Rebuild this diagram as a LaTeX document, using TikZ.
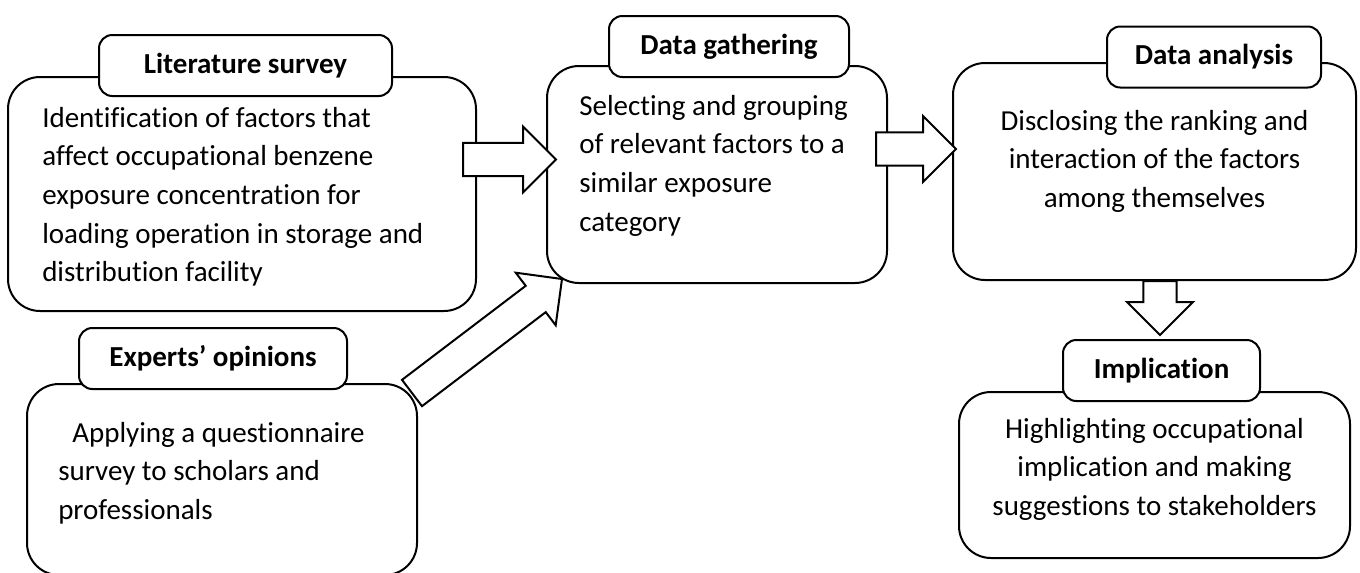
\documentclass[tikz,border=0pt]{standalone}
\usepackage{fontspec}
\setmainfont{Carlito}[Ligatures={NoCommon,NoContextual}]
\usepackage{tikz}
\usetikzlibrary{calc}
\newcommand{\blockarrow}[2]{%
    \coordinate (hb) at ($(#2)!24.75pt!(#1)$);
    \draw[blockarrow] ($(#1)!12.4pt!90:(#2)$) -- ($(hb)!12.4pt!90:(#2)$) -- ($(hb)!24.75pt!90:(#2)$)
        -- (#2) -- ($(hb)!24.75pt!-90:(#2)$) -- ($(hb)!12.4pt!-90:(#2)$) -- ($(#1)!12.4pt!-90:(#2)$) -- cycle;%
}
\tikzset{
    bigbox/.style={draw, line width=1.5pt, rounded corners=24pt, fill=white, inner sep=0pt},
    titlebox/.style={draw, line width=1.5pt, rounded corners=10pt, fill=white, minimum height=45.75pt,
        font=\fontsize{21.75}{26}\selectfont\bfseries},
    bodytext/.style={inner sep=0pt, font=\fontsize{21.75}{28.9}\selectfont},
    blockarrow/.style={draw, line width=1.5pt, fill=white, line join=miter}
}

\begin{document}
\begin{tikzpicture}[x=0.75pt, y=-0.75pt]
    \useasboundingbox (0,0) rectangle (1360,572);
    \clip (0,0) rectangle (1360,572);
    % boxes
    \node[bigbox, minimum width=351pt, minimum height=175.5pt] (survey) at (242,194) {};
    \node[bigbox, minimum width=255pt, minimum height=162.75pt] (gather) at (717,174.5) {};
    \node[bigbox, minimum width=302.25pt, minimum height=162.75pt] (analysis) at (1154.5,171.5) {};
    \node[bigbox, minimum width=293.25pt, minimum height=124.5pt] (implic) at (1154.5,475) {};
    \node[bigbox, minimum width=292.5pt, minimum height=143.25pt] (experts) at (222,479.5) {};
    % titles
    \node[titlebox, minimum width=219.75pt] (surveyhead) at (245.5,65.5) {Literature survey};
    \node[titlebox, minimum width=180pt] (gatherhead) at (729,46.5) {Data gathering};
    \node[titlebox, minimum width=160.5pt] (analysishead) at (1214,57) {Data analysis};
    \node[titlebox, minimum width=147.75pt] (implichead) at (1161.5,370.5) {Implication};
    \node[titlebox, minimum width=201pt] (expertshead) at (213,358.5) {Experts’ opinions};
    % texts
    \node[bodytext, align=left, anchor=north west] (surveytext) at (42,107)
        {Identification of factors that\\affect occupational benzene\\exposure concentration for\\loading operation in storage and\\distribution facility};
    \node[bodytext, align=left, anchor=north west] (gathertext) at (579,95)
        {Selecting and grouping\\of relevant factors to a\\similar exposure\\category};
    \node[bodytext, align=center, anchor=north] (analysistext) at (1154.5,110)
        {Disclosing the ranking and\\interaction of the factors\\among themselves};
    \node[bodytext, align=center, anchor=north] (implictext) at (1154.5,418)
        {Highlighting occupational\\implication and making\\suggestions to stakeholders};
    \node[bodytext, align=left, anchor=north west] (expertstext) at (58,422)
        {\hspace*{10.5pt}Applying a questionnaire\\survey to scholars and\\professionals};
    % block arrows
    \coordinate (a1s) at ($(survey.east)+(-14,-34.5)$);
    \coordinate (a1e) at ($(gather.west)+(10,-15)$);
    \coordinate (a2s) at ($(gather.east)+(-12,-25.5)$);
    \coordinate (a2e) at ($(analysis.west)+(4,-22.5)$);
    \coordinate (a3s) at ($(experts.north east)+(-6,10)$);
    \coordinate (a3e) at ($(gather.south west)+(16,-5)$);
    \coordinate (a4s) at ($(analysis.south)+(5.5,0)$);
    \coordinate (a4e) at ($(implichead.north)+(-1.5,-4)$);
    \blockarrow{a1s}{a1e}
    \blockarrow{a2s}{a2e}
    \blockarrow{a3s}{a3e}
    \blockarrow{a4s}{a4e}
\end{tikzpicture}
\end{document}
